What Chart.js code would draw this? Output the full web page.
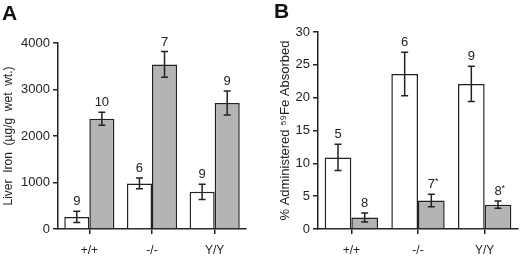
<!DOCTYPE html>
<html>
<head>
<meta charset="utf-8">
<script src="https://cdn.jsdelivr.net/npm/chart.js@4"></script>
<style>
  body { margin: 0; background: #fff; }
  #wrap { position: relative; width: 520px; height: 257px; font-family: "Liberation Sans", Arial, sans-serif; }
  .panel { position: absolute; top: 0; width: 260px; height: 257px; }
  .letter { position: absolute; font-weight: bold; font-size: 21px; color: #111; }
</style>
</head>
<body>
<div id="wrap">
  <div class="panel" style="left:0"><canvas id="chartA" width="260" height="257"></canvas></div>
  <div class="panel" style="left:260px"><canvas id="chartB" width="260" height="257"></canvas></div>
  <div class="letter" style="left:2px;top:1px">A</div>
  <div class="letter" style="left:274px;top:-1px">B</div>
</div>
<script>
const genotypes = ["+/+", "-/-", "Y/Y"];

// panel A: liver iron
const liverWhite = [260, 980, 800];
const liverWhiteErr = [120, 115, 165];
const liverGray = [2370, 3540, 2710];
const liverGrayErr = [140, 275, 260];
const liverWhiteN = ["9", "6", "9"];
const liverGrayN = ["10", "7", "9"];

// panel B: 59Fe absorbed
const absWhite = [10.9, 23.6, 22.1];
const absWhiteErr = [2.0, 3.3, 2.7];
const absGray = [1.75, 4.35, 3.7];
const absGrayErr = [0.7, 0.95, 0.55];
const absWhiteN = ["5", "6", "9"];
const absGrayN = ["8", "7*", "8*"];

const ink = "#222";
const grayFill = "#b4b4b4";

const errorBars = {
  id: "errorBars",
  afterDatasetsDraw(chart) {
    const ctx = chart.ctx;
    const y = chart.scales.y;
    ctx.save();
    chart.data.datasets.forEach((ds, di) => {
      const meta = chart.getDatasetMeta(di);
      meta.data.forEach((bar, i) => {
        const v = ds.data[i];
        const e = ds.errors[i];
        const top = y.getPixelForValue(v + e);
        const bot = y.getPixelForValue(v - e);
        const x = bar.x;
        ctx.strokeStyle = ink;
        ctx.lineWidth = 1.5;
        ctx.beginPath();
        ctx.moveTo(x, top); ctx.lineTo(x, bot);
        ctx.moveTo(x - 3.5, top); ctx.lineTo(x + 3.5, top);
        ctx.moveTo(x - 3.5, bot); ctx.lineTo(x + 3.5, bot);
        ctx.stroke();
        // n label
        const label = ds.counts[i];
        const star = label.endsWith("*");
        const main = star ? label.slice(0, -1) : label;
        ctx.fillStyle = ink;
        ctx.font = "13px 'Liberation Sans', Arial, sans-serif";
        ctx.textBaseline = "bottom";
        ctx.textAlign = "center";
        ctx.fillText(main, x, top - 3);
        if (star) {
          const w = ctx.measureText(main).width;
          ctx.font = "9px 'Liberation Sans', Arial, sans-serif";
          ctx.textAlign = "left";
          ctx.fillText("*", x + w / 2, top - 8);
        }
      });
    });
    ctx.restore();
  }
};

function makeChart(id, white, whiteErr, whiteN, gray, grayErr, grayN, yMax, yStep, yTitle, rightPad, topPad, titleSize, titlePad) {
  return new Chart(document.getElementById(id), {
    type: "bar",
    data: {
      labels: genotypes,
      datasets: [
        { data: white, errors: whiteErr, counts: whiteN, backgroundColor: "#fff", borderColor: ink, borderWidth: 1.5 },
        { data: gray, errors: grayErr, counts: grayN, backgroundColor: grayFill, borderColor: ink, borderWidth: 1.5 }
      ]
    },
    options: {
      responsive: false,
      animation: false,
      categoryPercentage: 0.8,
      barPercentage: 1.0,
      layout: { padding: { left: 0, right: rightPad, top: topPad, bottom: 0 } },
      plugins: { legend: { display: false }, tooltip: { enabled: false } },
      scales: {
        x: {
          grid: { offset: false, drawOnChartArea: false, drawTicks: true, tickLength: 5, color: ink, lineWidth: 1.5 },
          border: { color: ink, width: 1.5 },
          ticks: { color: ink, font: { size: 12, family: "'Liberation Sans', Arial, sans-serif" }, padding: 9 },
          afterFit: (s) => { s.height = 28; }
        },
        y: {
          min: 0,
          max: yMax,
          grid: { drawOnChartArea: false, drawTicks: true, tickLength: 5, color: ink, lineWidth: 1.5 },
          border: { color: ink, width: 1.5 },
          ticks: { stepSize: yStep, color: ink, padding: 3, font: { size: 13, family: "'Liberation Sans', Arial, sans-serif" }, callback: (v) => String(v) },
          title: { display: true, text: yTitle, color: ink, padding: titlePad, font: { size: titleSize, family: "'Liberation Sans', Arial, sans-serif" } },
          afterFit: (s) => { s.width = 58; }
        }
      }
    },
    plugins: [errorBars]
  });
}

makeChart("chartA", liverWhite, liverWhiteErr, liverWhiteN, liverGray, liverGrayErr, liverGrayN,
  4000, 1000, "Liver  Iron  (\u00b5g/g  wet  wt.)", 14, 43, 12, 1);
makeChart("chartB", absWhite, absWhiteErr, absWhiteN, absGray, absGrayErr, absGrayN,
  30, 5, "% Administered \u2075\u2079Fe Absorbed", 2, 32, 13, { top: 18, bottom: 0 });
</script>
</body>
</html>
